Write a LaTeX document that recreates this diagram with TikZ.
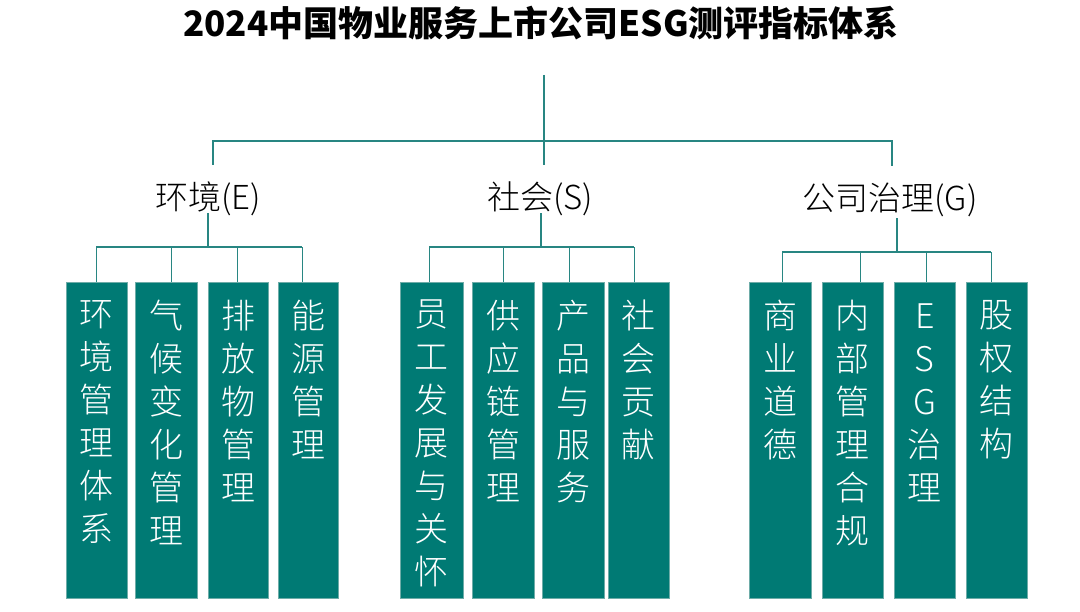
\documentclass[tikz,border=0pt]{standalone}
\usepackage{fontspec}
\newfontfamily\cjk{Noto Sans CJK SC}
\newfontfamily\cjklight{Noto Sans CJK SC Light}
\definecolor{boxc}{RGB}{0,122,116}
\definecolor{linec}{RGB}{40,134,130}
\definecolor{edgec}{RGB}{110,172,168}
\tikzset{
  conn/.style={draw=linec, line width=1.5pt},
  leaf/.style={draw=edgec, line width=0.6pt, fill=boxc, minimum height=316pt, inner sep=0pt, anchor=north west},
  leaftext/.style={text=white, font=\cjklight\fontsize{34}{43}\selectfont, align=center, inner sep=0pt, anchor=north},
  cat/.style={font=\cjklight\fontsize{33}{36}\selectfont, inner sep=0pt, text height=45pt, text depth=3pt, anchor=base},
  ttl/.style={font=\cjk\bfseries\fontsize{35}{40}\selectfont, inner sep=0pt}
}
\begin{document}
\begin{tikzpicture}[x=1pt,y=-1pt]
\useasboundingbox (0,0) rectangle (1080,612);
\fill[white] (0,0) rectangle (1080,612);

\node[ttl] (title) at (541,23) {2024中国物业服务上市公司ESG测评指标体系};

% categories
\node[cat] (E) at (208,210) {环境(E)};
\node[cat] (S) at (540,210) {社会(S)};
\node[cat] (G) at (890,211) {公司治理(G)};

% leaves: name/left/width/drop offset/text
\foreach \n/\l/\w/\o/\t in {
  e1/66/61/-0.5/{环\\境\\管\\理\\体\\系},
  e2/135/62/5/{气\\候\\变\\化\\管\\理},
  e3/208/60/-1/{排\\放\\物\\管\\理},
  e4/278/60/-6/{能\\源\\管\\理},
  s1/400/63/-2.5/{员\\工\\发\\展\\与\\关\\怀},
  s2/472/62/0/{供\\应\\链\\管\\理},
  s3/542/62/-4/{产\\品\\与\\服\\务},
  s4/608/61/-4.5/{社\\会\\贡\\献},
  g1/749/62/2/{商\\业\\道\\德},
  g2/822/61/7.5/{内\\部\\管\\理\\合\\规},
  g3/894/61/1.5/{\vphantom{治}E\\S\\G\\治\\理},
  g4/966/61/-5.5/{股\\权\\结\\构}}{
  \node[leaf, minimum width=\w pt] (\n) at (\l,282) {};
  \node[leaftext] (\n t) at ([yshift=-18pt]\n.north) {\t};
  \coordinate (\n d) at ([xshift=\o pt]\n.north);
}

% trunk
\coordinate (root) at (544,75);
\coordinate (hub) at (544,141);
\coordinate (Et) at ([xshift=5pt]E.north);
\coordinate (Gt) at ([xshift=2pt]G.north);
\draw[conn] (root) -- (root |- S.north);
\draw[conn] (Et) -- (Et |- hub) -- (Gt |- hub) -- (Gt);

% buses
\path (e1d) ++(0,-35) coordinate (eb);
\path (s1d) ++(0,-35) coordinate (sb);
\path (g1d) ++(0,-30) coordinate (gb);
\draw[conn] (eb) -- (eb -| e4d);
\draw[conn] (sb) -- (sb -| s4d);
\draw[conn] (gb) -- (gb -| g4d);
\draw[conn] (E.south) -- (E.south |- eb);
\draw[conn] ([xshift=1pt]S.south) -- ([xshift=1pt]S.south |- sb);
\draw[conn] ([xshift=7pt,yshift=-4pt]G.south) -- ([xshift=7pt]G.south |- gb);
\foreach \n in {e1,e2,e3,e4}{\draw[conn] (\n d) -- (\n d |- eb);}
\foreach \n in {s1,s2,s3,s4}{\draw[conn] (\n d) -- (\n d |- sb);}
\foreach \n in {g1,g2,g3,g4}{\draw[conn] (\n d) -- (\n d |- gb);}
\end{tikzpicture}
\end{document}
